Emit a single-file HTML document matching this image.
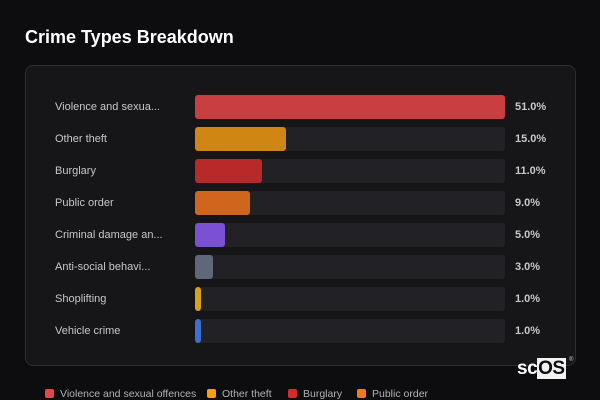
<!DOCTYPE html>
<html><head><style>
body{margin:0;width:600px;height:400px;background:#0d0d10;font-family:"Liberation Sans",sans-serif;overflow:hidden;position:relative}
.t{position:absolute;left:25px;top:27px;color:#fff;font-weight:bold;font-size:18px}
.card{position:absolute;left:25px;top:65px;width:549px;height:299px;background:#161619;border:1px solid #2c2c31;border-radius:8px}
.row{position:absolute;left:0;width:600px;height:24px}
.lab{position:absolute;left:55px;top:6px;color:#c6c6cc;font-size:11px}
.tr{position:absolute;left:195px;top:0;width:310px;height:24px;background:#222226;border-radius:3px}
.b{position:absolute;left:0;top:0;height:24px;border-radius:3px}
.v{position:absolute;left:515px;top:6px;color:#c6c6cc;font-size:11px;font-weight:bold}
.lg{position:absolute;top:388px;font-size:10.5px;color:#b0b0b6;white-space:nowrap}
.lg i{display:inline-block;width:9px;height:9px;border-radius:2px;margin-right:6px;vertical-align:-1px}
</style></head><body>
<div class="t">Crime Types Breakdown</div>
<div class="card"></div>
<div class="row" style="top:95px"><span class="lab">Violence and sexua...</span><div class="tr"><div class="b" style="width:310px;background:#c93f40"></div></div><span class="v">51.0%</span></div>
<div class="row" style="top:127px"><span class="lab">Other theft</span><div class="tr"><div class="b" style="width:91px;background:#cf8613"></div></div><span class="v">15.0%</span></div>
<div class="row" style="top:159px"><span class="lab">Burglary</span><div class="tr"><div class="b" style="width:67px;background:#b9292a"></div></div><span class="v">11.0%</span></div>
<div class="row" style="top:191px"><span class="lab">Public order</span><div class="tr"><div class="b" style="width:55px;background:#d0661d"></div></div><span class="v">9.0%</span></div>
<div class="row" style="top:223px"><span class="lab">Criminal damage an...</span><div class="tr"><div class="b" style="width:30px;background:#7b50d2"></div></div><span class="v">5.0%</span></div>
<div class="row" style="top:255px"><span class="lab">Anti-social behavi...</span><div class="tr"><div class="b" style="width:18px;background:#5f6879"></div></div><span class="v">3.0%</span></div>
<div class="row" style="top:287px"><span class="lab">Shoplifting</span><div class="tr"><div class="b" style="width:6px;background:#d6a21a"></div></div><span class="v">1.0%</span></div>
<div class="row" style="top:319px"><span class="lab">Vehicle crime</span><div class="tr"><div class="b" style="width:6px;background:#3b6fd2"></div></div><span class="v">1.0%</span></div>
<div style="position:absolute;left:517px;top:358px;font-size:19px;font-weight:bold;color:#fff;letter-spacing:-0.5px">sc<span style="background:#f2f2f2;color:#0d0d10;padding:0 1px">OS</span></div>
<div style="position:absolute;left:569px;top:357px;font-size:6px;color:#ccc">®</div>
<div class="lg" style="left:45px"><i style="background:#e04848"></i>Violence and sexual offences</div>
<div class="lg" style="left:207px"><i style="background:#f2a20f"></i>Other theft</div>
<div class="lg" style="left:288px"><i style="background:#d42b2b"></i>Burglary</div>
<div class="lg" style="left:357px"><i style="background:#f07a1c"></i>Public order</div>
</body></html>
